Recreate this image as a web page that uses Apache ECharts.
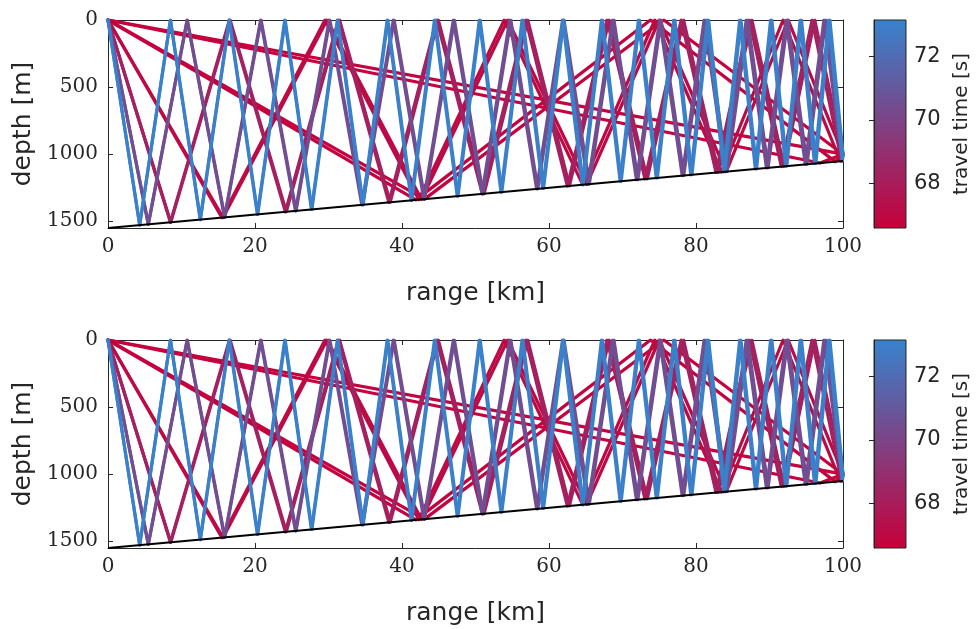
<!DOCTYPE html>
<html><head><meta charset="utf-8">
<script src="https://cdn.jsdelivr.net/npm/echarts@6/dist/echarts.min.js"></script>
<style>html,body{margin:0;padding:0;background:#fff}#c{width:979px;height:629px}</style>
</head><body><div id="c"></div>
<script>
// ---- data (range km, depth m) ----
const xTicks = [0, 20, 40, 60, 80, 100];
const yTicks = [0, 500, 1000, 1500];
const cbTicks = [68, 70, 72];
const rangeLim = [0, 100];
const depthLim = [0, 1550];
const timeLim = [66.6, 73.15];
const bottomRange = [0, 100];
const bottomDepth = [1550, 1050];

const rayDirect = [[0,0],[100,1000]];
const rayBottom1 = [[0,0],[96.875,1065.6],[100,1000]];
const rayK1a = [[0,0],[43.055,1334.7],[75.610,0],[100,1000]];
const rayK1b = [[0,0],[41.892,1340.5],[73.810,0],[98.936,1055.3],[100,1000]];
const rayK4a = [[0,0],[15.657,1471.7],[29.808,0],[42.661,1336.7],[54.386,0],[65.126,1224.4],[75.000,0],[84.109,1129.5],[92.537,0],[100,1000]];
const rayK4b = [[0,0],[15.5,1472.5],[29.524,0],[42.273,1338.6],[53.913,0],[64.583,1227.1],[74.4,0],[83.462,1132.7],[91.852,0],[99.643,1051.8],[100,1000]];
const rayK8a = [[0,0],[8.538,1507.3],[16.612,0],[24.257,1428.7],[31.508,0],[38.393,1358.0],[44.940,0],[51.171,1294.1],[57.111,0],[62.777,1236.1],[68.189,0],[73.364,1183.2],[78.316,0],[83.060,1134.7],[87.608,0],[91.972,1090.1],[96.163,0],[100,1000]];
const rayK8b = [[0,0],[8.492,1507.5],[16.525,0],[24.133,1429.3],[31.351,0],[38.206,1359.0],[44.726,0],[50.933,1295.3],[56.851,0],[62.498,1237.5],[67.893,0],[73.051,1184.7],[77.989,0],[82.720,1136.4],[87.257,0],[91.610,1092.0],[95.792,0],[99.811,1050.9],[100,1000]];
const rayK13a = [[0,0],[5.495,1522.5],[10.792,0],[15.900,1470.5],[20.830,0],[25.590,1422.1],[30.189,0],[34.635,1376.8],[38.935,0],[43.096,1334.5],[47.127,0],[51.029,1294.9],[54.811,0],[58.478,1257.6],[62.036,0],[65.488,1222.6],[68.840,0],[72.094,1189.5],[75.256,0],[78.330,1158.4],[81.318,0],[84.225,1128.9],[87.053,0],[89.806,1101.0],[92.487,0],[95.097,1074.5],[97.641,0],[100,1000]];
const rayK13b = [[0,0],[5.476,1522.6],[10.756,0],[15.848,1470.8],[20.763,0],[25.509,1422.5],[30.095,0],[34.529,1377.4],[38.817,0],[42.967,1335.2],[46.987,0],[50.880,1295.6],[54.654,0],[58.312,1258.4],[61.862,0],[65.307,1223.5],[68.652,0],[71.900,1190.5],[75.056,0],[78.124,1159.4],[81.107,0],[84.009,1130.0],[86.833,0],[89.581,1102.1],[92.258,0],[94.865,1075.7],[97.405,0],[99.881,1050.6],[100,1000]];
const rayK17a = [[0,0],[4.316,1528.4],[8.506,0],[12.576,1487.1],[16.530,0],[20.372,1448.1],[24.109,0],[27.744,1411.3],[31.280,0],[34.722,1376.4],[38.074,0],[41.338,1343.3],[44.519,0],[47.618,1311.9],[50.639,0],[53.585,1282.1],[56.459,0],[59.262,1253.7],[61.999,0],[64.671,1226.6],[67.278,0],[69.826,1200.9],[72.314,0],[74.746,1176.3],[77.123,0],[79.446,1152.8],[81.718,0],[83.940,1130.3],[86.114,0],[88.240,1108.8],[90.321,0],[92.359,1088.2],[94.353,0],[96.306,1068.5],[98.219,0],[100,1000]];
const rayK17b = [[0,0],[4.304,1528.5],[8.484,0],[12.544,1487.3],[16.488,0],[20.322,1448.4],[24.050,0],[27.677,1411.6],[31.205,0],[34.640,1376.8],[37.985,0],[41.242,1343.8],[44.417,0],[47.510,1312.5],[50.525,0],[53.466,1282.7],[56.335,0],[59.134,1254.3],[61.866,0],[64.533,1227.3],[67.136,0],[69.680,1201.6],[72.165,0],[74.593,1177.0],[76.967,0],[79.286,1153.6],[81.555,0],[83.774,1131.1],[85.945,0],[88.069,1109.7],[90.147,0],[92.183,1089.1],[94.174,0],[96.125,1069.4],[98.036,0],[99.908,1050.5],[100,1000]];

// travel times [s], same order as rays below
const rays = [rayDirect, rayBottom1, rayK1a, rayK1b, rayK4a, rayK4b, rayK8a, rayK8b, rayK13a, rayK13b, rayK17a, rayK17b];
const travelTimes = [66.672, 66.673, 66.714, 66.717, 67.10, 67.11, 68.21, 68.22, 70.49, 70.52, 72.98, 73.01];

// ---- styling ----
const cLow = [200, 0, 58], cHigh = [55, 131, 205];
function rgb(c){ return 'rgb(' + c.map(v => Math.round(v)).join(',') + ')'; }
function colorFor(t){
  let u = (t - timeLim[0]) / (timeLim[1] - timeLim[0]);
  u = Math.max(0, Math.min(1, u));
  return rgb(cLow.map((v, i) => v + (cHigh[i] - v) * u));
}
const AX = '#262626';
const serif = 'DejaVu Serif', sans = 'DejaVu Sans';
const tops = [20, 340];

const grids = [], xAxes = [], yAxes = [], series = [];
tops.forEach((top, p) => {
  grids.push({left: 108, top: top, width: 735, height: 208});
  const g = grids.length - 1;
  const xb = {gridIndex: g, type: 'value', min: rangeLim[0], max: rangeLim[1], interval: 20, position: 'bottom',
    axisLine: {show: true, onZero: false, lineStyle: {color: AX, width: 1}},
    axisTick: {show: true, inside: true, length: 5, lineStyle: {color: AX}},
    axisLabel: {show: true, fontFamily: serif, fontSize: 20, color: AX, margin: 9},
    splitLine: {show: false},
    name: 'range [km]', nameLocation: 'middle', nameGap: 53,
    nameTextStyle: {fontFamily: sans, fontSize: 25, color: AX, lineHeight: 25}};
  const xt = Object.assign({}, xb, {position: 'top', axisLabel: {show: false}, name: ''});
  xAxes.push(xb, xt);
  const yl = {gridIndex: g, type: 'value', inverse: true, min: depthLim[0], max: depthLim[1], interval: 500, position: 'left',
    axisLine: {show: true, onZero: false, lineStyle: {color: AX, width: 1}},
    axisTick: {show: true, inside: true, length: 5, lineStyle: {color: AX}},
    axisLabel: {show: true, fontFamily: serif, fontSize: 20, color: AX, margin: 10,
      formatter: v => (yTicks.indexOf(v) >= 0 ? String(v) : '')},
    splitLine: {show: false},
    name: 'depth [m]', nameLocation: 'middle', nameGap: 68, nameRotate: 90,
    nameTextStyle: {fontFamily: sans, fontSize: 25, color: AX, lineHeight: 25}};
  const yr = Object.assign({}, yl, {position: 'right', axisLabel: {show: false}, name: ''});
  yAxes.push(yl, yr);
  const xi = xAxes.length - 2, yi = yAxes.length - 2;
  rays.forEach((r, i) => {
    series.push({type: 'line', xAxisIndex: xi, yAxisIndex: yi, data: r, showSymbol: false, symbol: 'none',
      lineStyle: {color: colorFor(travelTimes[i]), width: 3.2, cap: 'round', join: 'round'},
      animation: false, silent: true, z: 2});
  });
  series.push({type: 'line', xAxisIndex: xi, yAxisIndex: yi,
    data: bottomRange.map((x, i) => [x, bottomDepth[i]]), showSymbol: false, symbol: 'none',
    lineStyle: {color: '#000', width: 2}, animation: false, silent: true, z: 3});
});

// colorbars
tops.forEach((top, p) => {
  grids.push({left: 874, top: top, width: 32, height: 208});
  const g = grids.length - 1;
  xAxes.push({gridIndex: g, type: 'value', min: 0, max: 1, show: false});
  yAxes.push({gridIndex: g, type: 'value', min: timeLim[0], max: timeLim[1], position: 'right', z: 5,
    axisLine: {show: true, lineStyle: {color: AX, width: 1}},
    axisTick: {show: true, inside: true, length: 5, customValues: cbTicks, lineStyle: {color: AX}},
    axisLabel: {show: true, customValues: cbTicks, fontFamily: sans, fontSize: 21, color: AX, margin: 8},
    splitLine: {show: false},
    name: 'travel time [s]', nameLocation: 'middle', nameGap: 46, nameRotate: 90,
    nameTextStyle: {fontFamily: sans, fontSize: 20, color: AX, lineHeight: 20}});
  const xi = xAxes.length - 1, yi = yAxes.length - 1;
  series.push({type: 'custom', xAxisIndex: xi, yAxisIndex: yi, data: [[0, timeLim[0]]], animation: false, silent: true,
    renderItem: (params, api) => {
      const p0 = api.coord([0, timeLim[0]]), p1 = api.coord([1, timeLim[1]]);
      return {type: 'rect', shape: {x: p0[0], y: p1[1], width: p1[0] - p0[0], height: p0[1] - p1[1]},
        style: {fill: new echarts.graphic.LinearGradient(0, 1, 0, 0, [{offset: 0, color: rgb(cLow)}, {offset: 1, color: rgb(cHigh)}]),
          stroke: AX, lineWidth: 1}};
    }});
});

const chart = echarts.init(document.getElementById('c'), null, {renderer: 'canvas'});
chart.setOption({animation: false, backgroundColor: '#fff', grid: grids, xAxis: xAxes, yAxis: yAxes, series: series});
</script></body></html>
